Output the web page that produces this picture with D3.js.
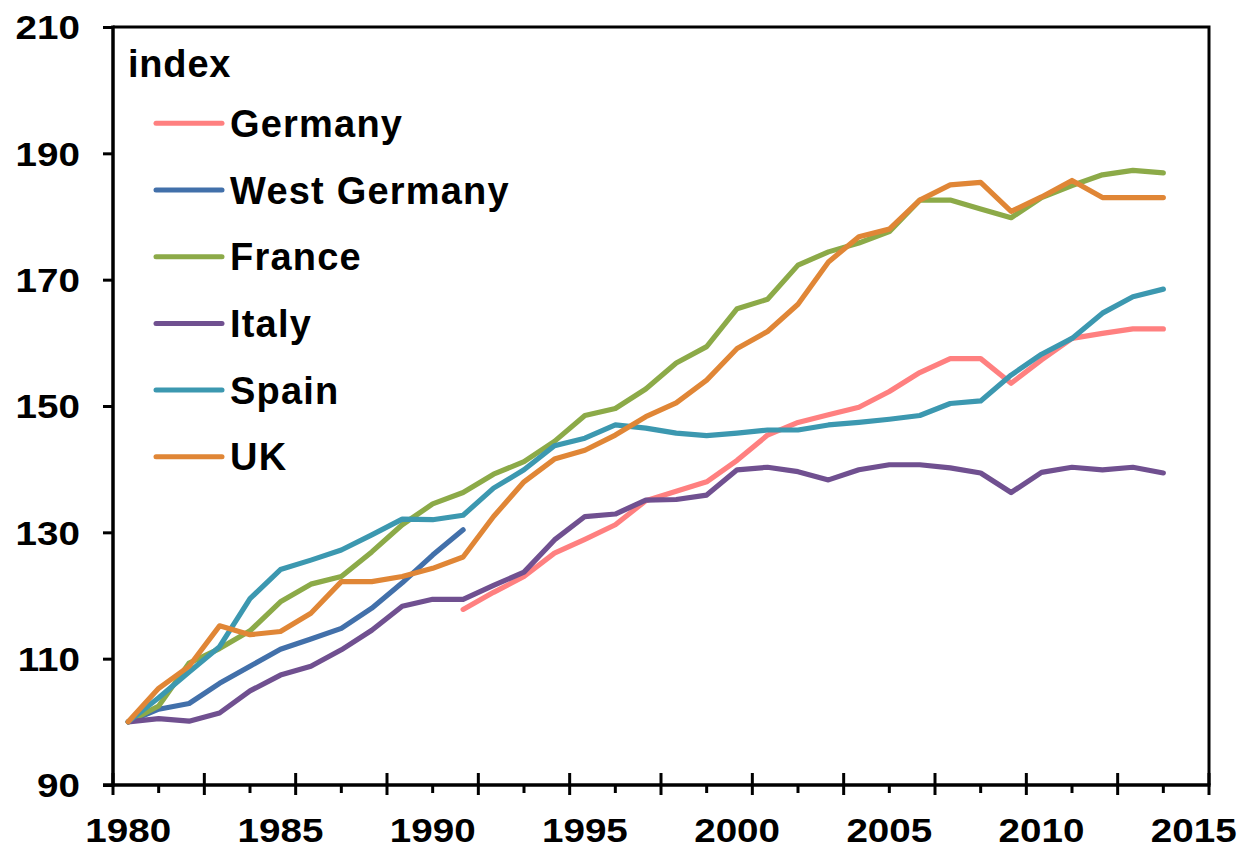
<!DOCTYPE html>
<html><head><meta charset="utf-8">
<script src="https://cdn.jsdelivr.net/npm/d3@7"></script>
<style>
body{margin:0;background:#fff;}
text{font-family:"Liberation Sans",Arial,sans-serif;font-weight:bold;fill:#000;}
</style></head>
<body><svg id="c" width="1245" height="852"></svg>
<script>
const years = d3.range(1980, 2015);
const tickYears = [1980, 1985, 1990, 1995, 2000, 2005, 2010, 2015];
const yTicks = [90, 110, 130, 150, 170, 190, 210];
const seriesNames = ["Germany", "West Germany", "France", "Italy", "Spain", "UK"];
const seriesColors = ["#FF8080", "#4270AA", "#8CAA48", "#705090", "#3C98B0", "#E08636"];
const seriesStart = [1991, 1980, 1980, 1980, 1980, 1980];
const germany = [117.8,120.5,123.0,126.7,128.9,131.2,135.0,136.5,138.0,141.4,145.4,147.4,148.6,149.8,152.3,155.3,157.5,157.5,153.6,157.3,160.7,161.5,162.2,162.2];
const westGermany = [100,102.0,102.9,106.1,108.8,111.5,113.1,114.8,118.0,122.0,126.4,130.4];
const france = [100,102.5,109.3,111.6,114.4,119.0,121.8,123.0,126.9,131.2,134.5,136.3,139.2,141.2,144.4,148.5,149.6,152.7,156.8,159.4,165.4,166.9,172.3,174.4,175.8,177.6,182.6,182.6,181.2,179.8,183.0,184.9,186.6,187.3,186.9];
const italy = [100,100.5,100.1,101.4,104.9,107.4,108.8,111.4,114.5,118.3,119.4,119.4,121.6,123.7,128.8,132.5,132.9,135.1,135.2,135.9,139.9,140.3,139.6,138.3,139.9,140.7,140.7,140.2,139.4,136.3,139.5,140.3,139.9,140.3,139.4];
const spain = [100,103.8,107.9,111.9,119.5,124.1,125.6,127.2,129.6,132.1,132.0,132.7,137.0,139.9,143.7,144.9,147.0,146.5,145.7,145.3,145.7,146.2,146.2,147.0,147.4,147.9,148.5,150.4,150.8,154.9,158.2,160.7,164.7,167.3,168.5];
const uk = [100,105.3,108.8,115.2,113.8,114.3,117.2,122.2,122.2,123.0,124.3,126.1,132.5,138.0,141.6,143.0,145.4,148.3,150.5,154.1,159.1,161.8,166.1,172.8,176.8,178.0,182.6,185.0,185.4,180.8,183.1,185.7,183.0,183.0,183.0];
const seriesValues = [germany, westGermany, france, italy, spain, uk];

const svg = d3.select("#c");
const L = 113, R = 1209, T = 27, B = 785;
const x = d3.scaleLinear().domain([1979.5, 2015.5]).range([L, R]);
const y = d3.scaleLinear().domain([90, 210]).range([B, T]);

// frame top/right
svg.append("path").attr("d", `M${L},${T}H${R}V${B}`).attr("fill","none").attr("stroke","#000").attr("stroke-width",3);

// lines
const line = d3.line().x(d => x(d[0])).y(d => y(d[1])).curve(d3.curveLinear);
seriesValues.forEach((vals, i) => {
  const pts = vals.map((v, j) => [seriesStart[i] + j, v]);
  svg.append("path").datum(pts).attr("d", line).attr("fill","none")
    .attr("stroke", seriesColors[i]).attr("stroke-width", 5.2)
    .attr("stroke-linejoin","round").attr("stroke-linecap","round");
});

// y axis
const yAxis = d3.axisLeft(y).tickValues(yTicks).tickSize(10).tickPadding(22).tickFormat(d3.format("d"));
const gy = svg.append("g").attr("transform", `translate(${L},0)`).call(yAxis);
gy.select(".domain").attr("stroke","#000").attr("stroke-width",3.5).attr("d", `M0,${T-1.5}V${B+1.5}`);
gy.selectAll(".tick line").attr("stroke","#000").attr("stroke-width",3);
gy.selectAll(".tick text").style("font-size","33px").style("font-family","Liberation Sans, Arial, sans-serif").style("font-weight","bold")
  .attr("fill","#000").attr("dy","0.36em").attr("transform","scale(1.17,1)").attr("x", -33/1.17);

// x axis
const majors = d3.range(0, 13).map(k => 1979.5 + 3*k);
const minors = d3.range(0, 12).map(k => 1981 + 3*k);
const gx = svg.append("g");
gx.append("line").attr("x1", L-10).attr("x2", R+1.5).attr("y1", B).attr("y2", B).attr("stroke","#000").attr("stroke-width",3.5);
gx.selectAll(".maj").data(majors).join("line").attr("class","maj")
  .attr("x1", d => x(d)).attr("x2", d => x(d)).attr("y1", B-12).attr("y2", B+10)
  .attr("stroke","#000").attr("stroke-width",3);
gx.selectAll(".min").data(minors).join("line").attr("class","min")
  .attr("x1", d => x(d)).attr("x2", d => x(d)).attr("y1", B).attr("y2", B+8)
  .attr("stroke","#000").attr("stroke-width",3);
gx.selectAll(".lbl").data(tickYears).join("text").attr("class","lbl")
  .attr("text-anchor","middle").style("font-size","33px")
  .attr("transform", d => `translate(${x(d)},842) scale(1.17,1)`).text(d => d);

// legend
svg.append("text").attr("x",128).attr("y",77).style("font-size","38px").style("letter-spacing","0.8px").text("index");
seriesNames.forEach((n, i) => {
  const ly = 123.3 + i*66.7;
  svg.append("line").attr("x1",156).attr("x2",222).attr("y1",ly).attr("y2",ly)
    .attr("stroke", seriesColors[i]).attr("stroke-width",5).attr("stroke-linecap","round");
  svg.append("text").attr("x",230).attr("y",ly+13.5).style("font-size","38px").style("letter-spacing","1.2px").text(n);
});
</script></body></html>
